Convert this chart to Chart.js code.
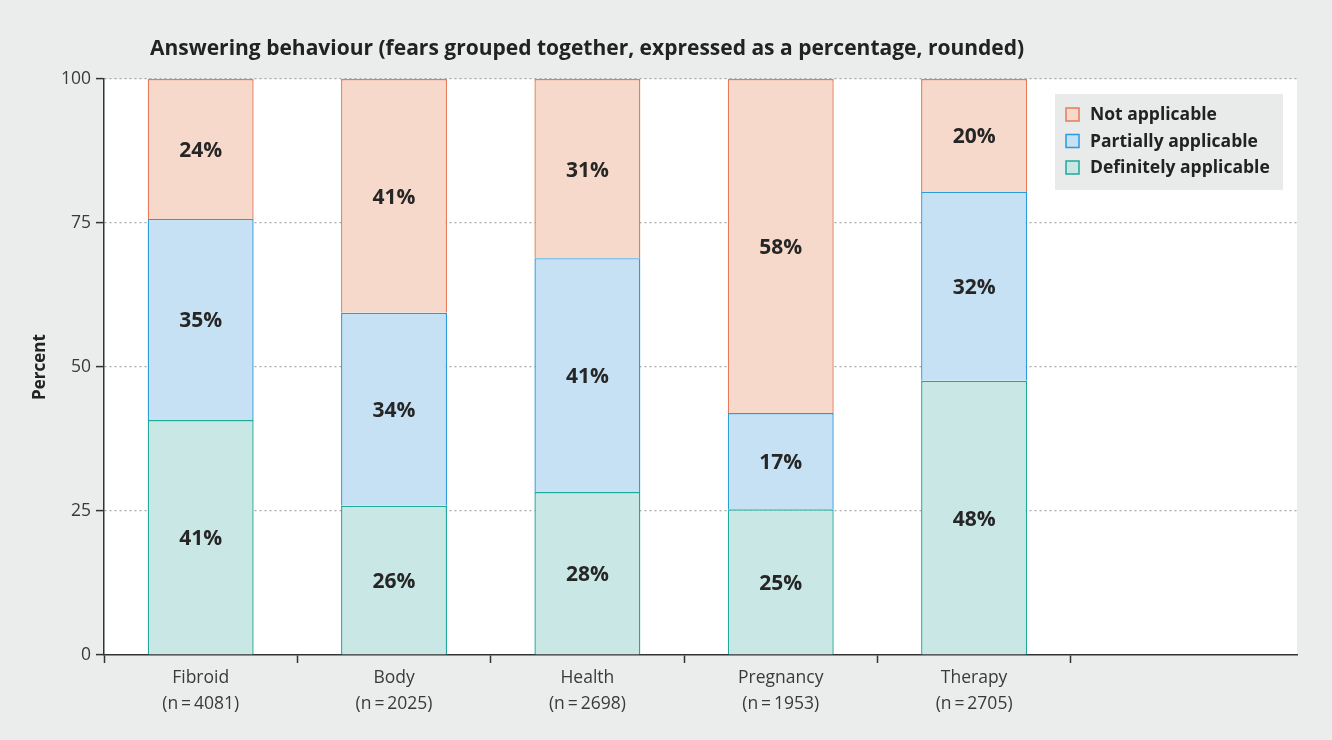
<!DOCTYPE html>
<html><head><meta charset="utf-8">
<script src="https://cdn.jsdelivr.net/npm/chart.js@4"></script>
<style>html,body{margin:0;padding:0;background:#ebecec;} #wrap{width:1332px;height:740px;position:relative}</style>
</head><body><div id="wrap"><canvas id="c" width="1332" height="740"></canvas></div>
<script>
const categories = ['Fibroid', 'Body', 'Health', 'Pregnancy', 'Therapy'];
const sampleSizes = ['4081', '2025', '2698', '1953', '2705'];
const definitely = [40.8, 25.9, 28.3, 25.3, 47.6];
const partially = [34.9, 33.5, 40.6, 16.7, 32.8];
const notApplicable = [24.3, 40.6, 31.1, 58.0, 19.6];
const definitelyLabels = [41, 26, 28, 25, 48];
const partiallyLabels = [35, 34, 41, 17, 32];
const notApplicableLabels = [24, 41, 31, 58, 20];
const yTicks = [0, 25, 50, 75, 100];
const seriesNames = ['Definitely applicable', 'Partially applicable', 'Not applicable'];
const titleText = 'Answering behaviour (fears grouped together, expressed as a percentage, rounded)';
const yTitle = 'Percent';
const xMax = 6.17;

const FONT = '"Open Sans"';
const colors = {
  def: {fill: '#c9e7e4', border: '#1fa99b'},
  part: {fill: '#c7e1f4', border: '#2b9bdc'},
  not: {fill: '#f6d9ca', border: '#e57b5a'}
};

function pts(arr) { return arr.map((v, i) => ({x: i + 0.5, y: v})); }

const datasets = [
  {label: seriesNames[0], data: pts(definitely), valueLabels: definitelyLabels, backgroundColor: colors.def.fill, borderColor: colors.def.border},
  {label: seriesNames[1], data: pts(partially), valueLabels: partiallyLabels, backgroundColor: colors.part.fill, borderColor: colors.part.border},
  {label: seriesNames[2], data: pts(notApplicable), valueLabels: notApplicableLabels, backgroundColor: colors.not.fill, borderColor: colors.not.border}
].map(d => Object.assign(d, {borderWidth: 1.4, borderSkipped: 'bottom', barPercentage: 1.096, categoryPercentage: 1}));

const bgPlugin = {
  id: 'bg',
  beforeDraw(chart) {
    const {ctx, chartArea: a} = chart;
    ctx.save();
    ctx.fillStyle = '#ebecec';
    ctx.fillRect(0, 0, chart.width, chart.height);
    ctx.fillStyle = '#ffffff';
    ctx.fillRect(a.left, a.top, a.right - a.left, a.bottom - a.top);
    ctx.restore();
  }
};

const titlePlugin = {
  id: 'customTitle',
  afterDraw(chart) {
    const ctx = chart.ctx;
    ctx.save();
    ctx.font = 'bold 21px ' + FONT;
    ctx.fillStyle = '#222';
    ctx.textAlign = 'left';
    ctx.textBaseline = 'middle';
    ctx.fillText(titleText, 150, 49);
    ctx.restore();
  }
};

const labelPlugin = {
  id: 'segLabels',
  afterDatasetsDraw(chart) {
    const ctx = chart.ctx;
    ctx.save();
    ctx.font = 'bold 21px ' + FONT;
    ctx.fillStyle = '#262626';
    ctx.textAlign = 'center';
    ctx.textBaseline = 'middle';
    chart.data.datasets.forEach((ds, di) => {
      const meta = chart.getDatasetMeta(di);
      meta.data.forEach((el, i) => {
        const p = el.getCenterPoint();
        ctx.fillText(ds.valueLabels[i] + '%', p.x, p.y + 2);
      });
    });
    ctx.restore();
  }
};

const legendPlugin = {
  id: 'boxLegend',
  afterDraw(chart) {
    const {ctx, chartArea: a} = chart;
    const w = 228, h = 96;
    const x = a.right - 14 - w, y = a.top + 15;
    ctx.save();
    ctx.fillStyle = '#e9eaea';
    ctx.fillRect(x, y, w, h);
    ctx.font = 'bold 17.5px ' + FONT;
    ctx.textAlign = 'left';
    ctx.textBaseline = 'middle';
    const order = [2, 1, 0];
    order.forEach((di, row) => {
      const ds = chart.data.datasets[di];
      const cy = y + 20.5 + row * 26.5;
      ctx.fillStyle = ds.backgroundColor;
      ctx.fillRect(x + 11, cy - 6.5, 13, 13);
      ctx.strokeStyle = ds.borderColor;
      ctx.lineWidth = 1.5;
      ctx.strokeRect(x + 11, cy - 6.5, 13, 13);
      ctx.fillStyle = '#222';
      ctx.fillText(ds.label, x + 35, cy + 1);
    });
    ctx.restore();
  }
};

new Chart(document.getElementById('c'), {
  type: 'bar',
  data: {datasets},
  plugins: [bgPlugin, labelPlugin, legendPlugin, titlePlugin],
  options: {
    responsive: false,
    animation: false,
    devicePixelRatio: 1,
    layout: {padding: {top: 79, right: 35, left: 0, bottom: 0}},
    plugins: {legend: {display: false}, title: {display: false}, tooltip: {enabled: false}},
    scales: {
      x: {
        type: 'linear',
        stacked: true,
        min: 0,
        max: xMax,
        offset: false,
        afterBuildTicks(scale) {
          const t = [];
          for (let i = 0; i <= categories.length; i++) {
            t.push({value: i});
            if (i < categories.length) t.push({value: i + 0.5});
          }
          scale.ticks = t;
        },
        afterFit(scale) { scale.height = 85; },
        ticks: {
          autoSkip: false,
          maxRotation: 0,
          padding: 2,
          color: '#3a3a3a',
          font: {family: 'Open Sans', size: 17.5, lineHeight: 1.5},
          callback(value) {
            const i = Math.floor(value);
            if (Math.abs(value - i - 0.5) < 1e-6 && i < categories.length) {
              return [categories[i], '(n\u2009=\u2009' + sampleSizes[i] + ')'];
            }
            return '';
          }
        },
        grid: {
          offset: false,
          drawOnChartArea: false,
          drawTicks: true,
          tickLength: 8,
          tickWidth: 1.5,
          tickColor(ctx) {
            return ctx.tick && Math.abs(ctx.tick.value % 1) < 1e-6 ? '#333' : 'rgba(0,0,0,0)';
          }
        },
        border: {color: '#333', width: 1.5}
      },
      y: {
        stacked: true,
        min: 0,
        max: 100,
        afterBuildTicks(scale) { scale.ticks = yTicks.map(v => ({value: v})); },
        afterFit(scale) { scale.width = 104; },
        ticks: {
          padding: 5,
          color: '#3a3a3a',
          font: {family: 'Open Sans', size: 17.5}
        },
        title: {
          display: true,
          text: yTitle,
          color: '#222',
          font: {family: 'Open Sans', size: 17, weight: 'bold'},
          padding: {top: 30, bottom: 0}
        },
        grid: {
          color(ctx) { return ctx.tick && ctx.tick.value === 0 ? 'rgba(0,0,0,0)' : '#a9a9a9'; },
          lineWidth: 1.2,
          tickLength: 8,
          tickWidth: 1.5,
          tickColor: '#333',
          tickBorderDash: []
        },
        border: {color: '#333', width: 1.5, dash: [2, 3]}
      }
    }
  }
});
</script>
</body></html>
